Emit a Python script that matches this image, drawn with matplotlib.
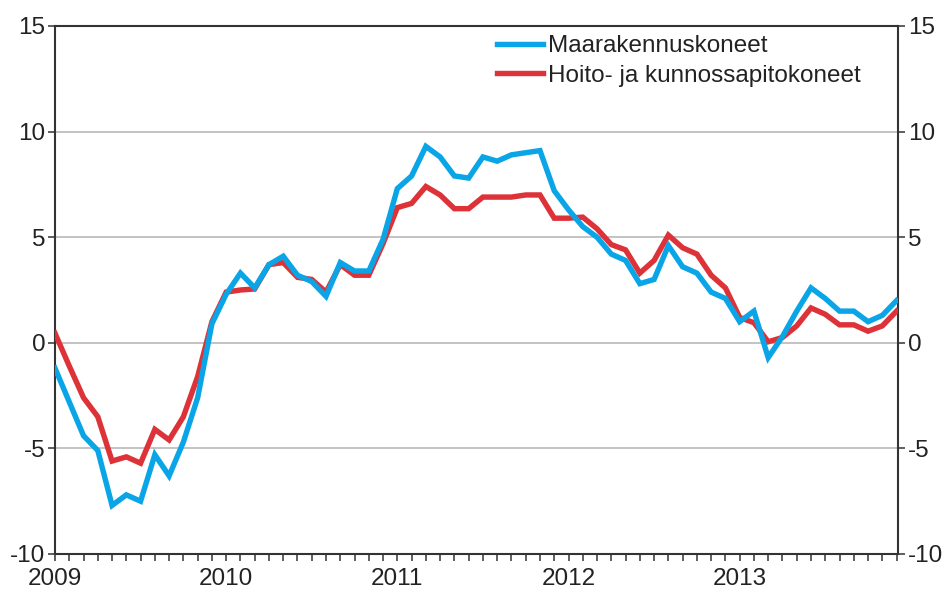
import matplotlib
matplotlib.use("Agg")
import matplotlib.pyplot as plt
import numpy as np

plt.rcParams['font.family'] = ['Liberation Sans', 'DejaVu Sans']

year_labels = ["2009", "2010", "2011", "2012", "2013"]
series_names = ["Maarakennuskoneet", "Hoito- ja kunnossapitokoneet"]

# Monthly values Jan 2009 - Dec 2013
maarakennus = [
    -1.2, -2.8, -4.4, -5.1, -7.7, -7.2, -7.5, -5.3, -6.3, -4.7, -2.6, 0.9,
    2.3, 3.3, 2.6, 3.7, 4.1, 3.2, 2.9, 2.2, 3.8, 3.4, 3.4, 4.9,
    7.3, 7.9, 9.3, 8.8, 7.9, 7.8, 8.8, 8.6, 8.9, 9.0, 9.1, 7.2,
    6.3, 5.5, 5.0, 4.2, 3.9, 2.8, 3.0, 4.6, 3.6, 3.3, 2.4, 2.1,
    1.0, 1.5, -0.7, 0.3, 1.5, 2.6, 2.1, 1.5, 1.5, 1.0, 1.3, 2.0,
]
hoito = [
    0.45, -1.1, -2.6, -3.5, -5.6, -5.4, -5.7, -4.1, -4.6, -3.5, -1.6, 1.0,
    2.4, 2.5, 2.55, 3.7, 3.8, 3.1, 3.0, 2.4, 3.7, 3.2, 3.2, 4.7,
    6.4, 6.6, 7.4, 7.0, 6.35, 6.35, 6.9, 6.9, 6.9, 7.0, 7.0, 5.9,
    5.9, 5.95, 5.4, 4.65, 4.4, 3.3, 3.9, 5.1, 4.5, 4.2, 3.2, 2.6,
    1.2, 0.95, 0.05, 0.25, 0.8, 1.65, 1.35, 0.85, 0.85, 0.55, 0.8, 1.5,
]

blue = '#0AA5E6'
red = '#DC3238'
FS = 17.5

fig = plt.figure(figsize=(9.47, 5.90), dpi=100)
ax = fig.add_axes([55/947, 1-554/590, (898-55)/947, (554-26)/590])

x = np.arange(len(maarakennus))
ax.plot(x, maarakennus, color=blue, lw=3.9, label=series_names[0], zorder=4,
        solid_joinstyle='miter')
ax.plot(x, hoito, color=red, lw=3.9, label=series_names[1], zorder=3,
        solid_joinstyle='miter')

ax.set_xticks(np.arange(0, len(x)))
ax.set_xticklabels([])
ax.set_xlim(0, len(x) - 1 + 0.1)
ax.set_ylim(-10, 15)
yt = [-10, -5, 0, 5, 10, 15]
ax.set_yticks(yt)
ax.set_yticklabels([str(v) for v in yt])
ax.yaxis.grid(True, color='#BEBEBE', lw=1.3)
ax.set_axisbelow(True)

ax.tick_params(axis='x', which='major', length=5, width=1.1, color='#333333')
for i, lab in enumerate(year_labels):
    ax.annotate(lab, xy=(i * 12, -10), xycoords='data', xytext=(0, -10),
                textcoords='offset points', ha='center', va='top',
                fontsize=FS, color='#222222', annotation_clip=False)

ax.tick_params(axis='y', which='major', length=5, width=1.1, color='#333333',
               labelsize=FS, labelcolor='#222222', left=True, right=True,
               labelleft=True, labelright=True, pad=2)

for s in ax.spines.values():
    s.set_color('#333333')
    s.set_linewidth(1.5)

leg = ax.legend(loc='upper left', bbox_to_anchor=(497/947, 1-35/590),
                bbox_transform=fig.transFigure, frameon=False,
                fontsize=FS, handlelength=1.9, handletextpad=0.2,
                labelspacing=0.32, borderaxespad=0, borderpad=0)
for t in leg.get_texts():
    t.set_color('#222222')

fig.savefig('out.png', dpi=100)
